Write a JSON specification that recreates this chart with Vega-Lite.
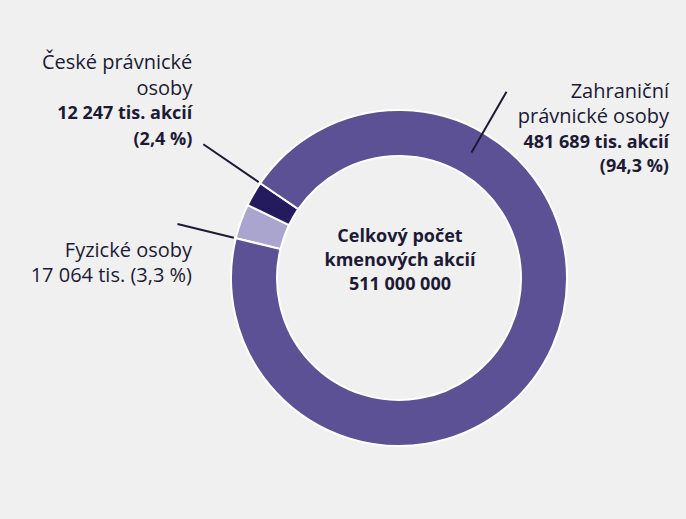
{
  "$schema": "https://vega.github.io/schema/vega-lite/v6.json",
  "width": 574,
  "height": 482,
  "autosize": {"type": "none"},
  "padding": {"left": 112, "top": 37, "right": 0, "bottom": 0},
  "background": "#f0f0f0",
  "config": {
    "view": {"stroke": null},
    "text": {"font": "Open Sans", "fontSize": 20, "color": "#1c1a35", "lineHeight": 25.5}
  },
  "datasets": {
    "shares": [
      {"category": "Fyzické osoby", "order": 1, "value": 17064, "name": "Fyzické osoby", "detail": "17 064 tis. (3,3 %)"},
      {"category": "České právnické osoby", "order": 2, "value": 12247, "name": "České právnické\nosoby", "detail": "12 247 tis. akcií\n(2,4 %)"},
      {"category": "Zahraniční právnické osoby", "order": 3, "value": 481689, "name": "Zahraniční\nprávnické osoby", "detail": "481 689 tis. akcií\n(94,3 %)"}
    ],
    "center": [
      {"label": "Celkový počet\nkmenových akcií\n511 000 000"}
    ]
  },
  "layer": [
    {
      "data": {"name": "shares"},
      "transform": [
        {"stack": "value", "groupby": [], "sort": [{"field": "order", "order": "ascending"}], "as": ["v0", "v1"]}
      ],
      "mark": {"type": "arc", "outerRadius": 168, "innerRadius": 122, "stroke": "white", "strokeWidth": 2},
      "encoding": {
        "theta": {"field": "v0", "type": "quantitative", "stack": null, "scale": {"domain": [0, 511000], "range": [4.9515, 11.2347]}},
        "theta2": {"field": "v1"},
        "color": {
          "field": "category", "type": "nominal", "legend": null,
          "scale": {"domain": ["Fyzické osoby", "České právnické osoby", "Zahraniční právnické osoby"], "range": ["#aaa5cf", "#231b5e", "#5b5194"]}
        }
      }
    },
    {
      "data": {"name": "shares"},
      "transform": [
        {"stack": "value", "groupby": [], "sort": [{"field": "order", "order": "ascending"}], "as": ["v0", "v1"]},
        {"filter": "datum.category === 'České právnické osoby'"}
      ],
      "mark": {"type": "arc", "outerRadius": 237, "innerRadius": 170, "stroke": "#1c1a35", "strokeWidth": 2},
      "encoding": {
        "theta": {"field": "v1", "type": "quantitative", "stack": null, "scale": {"domain": [0, 511000], "range": [4.9515, 11.2347]}},
        "theta2": {"field": "v1"}
      }
    },
    {
      "data": {"name": "shares"},
      "transform": [
        {"stack": "value", "groupby": [], "sort": [{"field": "order", "order": "ascending"}], "as": ["v0", "v1"]},
        {"filter": "datum.category === 'Fyzické osoby'"}
      ],
      "mark": {"type": "arc", "outerRadius": 228, "innerRadius": 170, "stroke": "#1c1a35", "strokeWidth": 2},
      "encoding": {
        "theta": {"field": "v0", "type": "quantitative", "stack": null, "scale": {"domain": [0, 511000], "range": [4.9515, 11.2347]}},
        "theta2": {"field": "v0"}
      }
    },
    {
      "data": {"name": "shares"},
      "transform": [
        {"filter": "datum.category === 'Zahraniční právnické osoby'"}
      ],
      "mark": {"type": "arc", "outerRadius": 215, "innerRadius": 145, "stroke": "#1c1a35", "strokeWidth": 2},
      "encoding": {
        "theta": {"datum": 150887, "type": "quantitative", "scale": {"domain": [0, 511000], "range": [4.9515, 11.2347]}},
        "theta2": {"datum": 150887}
      }
    },
    {
      "data": {"name": "shares"},
      "transform": [
        {"stack": "value", "groupby": [], "sort": [{"field": "order", "order": "ascending"}], "as": ["v0", "v1"]},
        {"filter": "datum.category === 'České právnické osoby'"}
      ],
      "mark": {"type": "text", "radius": 237, "align": "right", "baseline": "middle", "dx": -11, "dy": -81, "lineBreak": "\n"},
      "encoding": {
        "theta": {"field": "v1", "type": "quantitative", "stack": null, "scale": {"domain": [0, 511000], "range": [4.9515, 11.2347]}},
        "text": {"field": "name"}
      }
    },
    {
      "data": {"name": "shares"},
      "transform": [
        {"stack": "value", "groupby": [], "sort": [{"field": "order", "order": "ascending"}], "as": ["v0", "v1"]},
        {"filter": "datum.category === 'České právnické osoby'"}
      ],
      "mark": {"type": "text", "radius": 237, "align": "right", "baseline": "middle", "dx": -11, "dy": -30, "fontSize": 18, "fontWeight": "bold", "lineBreak": "\n"},
      "encoding": {
        "theta": {"field": "v1", "type": "quantitative", "stack": null, "scale": {"domain": [0, 511000], "range": [4.9515, 11.2347]}},
        "text": {"field": "detail"}
      }
    },
    {
      "data": {"name": "shares"},
      "transform": [
        {"stack": "value", "groupby": [], "sort": [{"field": "order", "order": "ascending"}], "as": ["v0", "v1"]},
        {"filter": "datum.category === 'Fyzické osoby'"}
      ],
      "mark": {"type": "text", "radius": 228, "align": "right", "baseline": "middle", "dx": 14.5, "dy": 26.5, "lineBreak": "\n"},
      "encoding": {
        "theta": {"field": "v0", "type": "quantitative", "stack": null, "scale": {"domain": [0, 511000], "range": [4.9515, 11.2347]}},
        "text": {"field": "name"}
      }
    },
    {
      "data": {"name": "shares"},
      "transform": [
        {"stack": "value", "groupby": [], "sort": [{"field": "order", "order": "ascending"}], "as": ["v0", "v1"]},
        {"filter": "datum.category === 'Fyzické osoby'"}
      ],
      "mark": {"type": "text", "radius": 228, "align": "right", "baseline": "middle", "dx": 14.5, "dy": 52, "lineBreak": "\n"},
      "encoding": {
        "theta": {"field": "v0", "type": "quantitative", "stack": null, "scale": {"domain": [0, 511000], "range": [4.9515, 11.2347]}},
        "text": {"field": "detail"}
      }
    },
    {
      "data": {"name": "shares"},
      "transform": [
        {"filter": "datum.category === 'Zahraniční právnické osoby'"}
      ],
      "mark": {"type": "text", "radius": 237, "align": "right", "baseline": "middle", "dx": 117, "dy": -5, "lineBreak": "\n"},
      "encoding": {
        "theta": {"datum": 165365, "type": "quantitative", "scale": {"domain": [0, 511000], "range": [4.9515, 11.2347]}},
        "text": {"field": "name"}
      }
    },
    {
      "data": {"name": "shares"},
      "transform": [
        {"filter": "datum.category === 'Zahraniční právnické osoby'"}
      ],
      "mark": {"type": "text", "radius": 237, "align": "right", "baseline": "middle", "dx": 117, "dy": 46, "lineHeight": 24, "fontSize": 18, "fontWeight": "bold", "lineBreak": "\n"},
      "encoding": {
        "theta": {"datum": 165365, "type": "quantitative", "scale": {"domain": [0, 511000], "range": [4.9515, 11.2347]}},
        "text": {"field": "detail"}
      }
    },
    {
      "data": {"name": "center"},
      "mark": {"type": "text", "align": "center", "baseline": "middle", "dx": 1, "dy": -41, "lineHeight": 24, "fontSize": 18, "fontWeight": "bold", "lineBreak": "\n"},
      "encoding": {
        "text": {"field": "label"}
      }
    }
  ]
}
